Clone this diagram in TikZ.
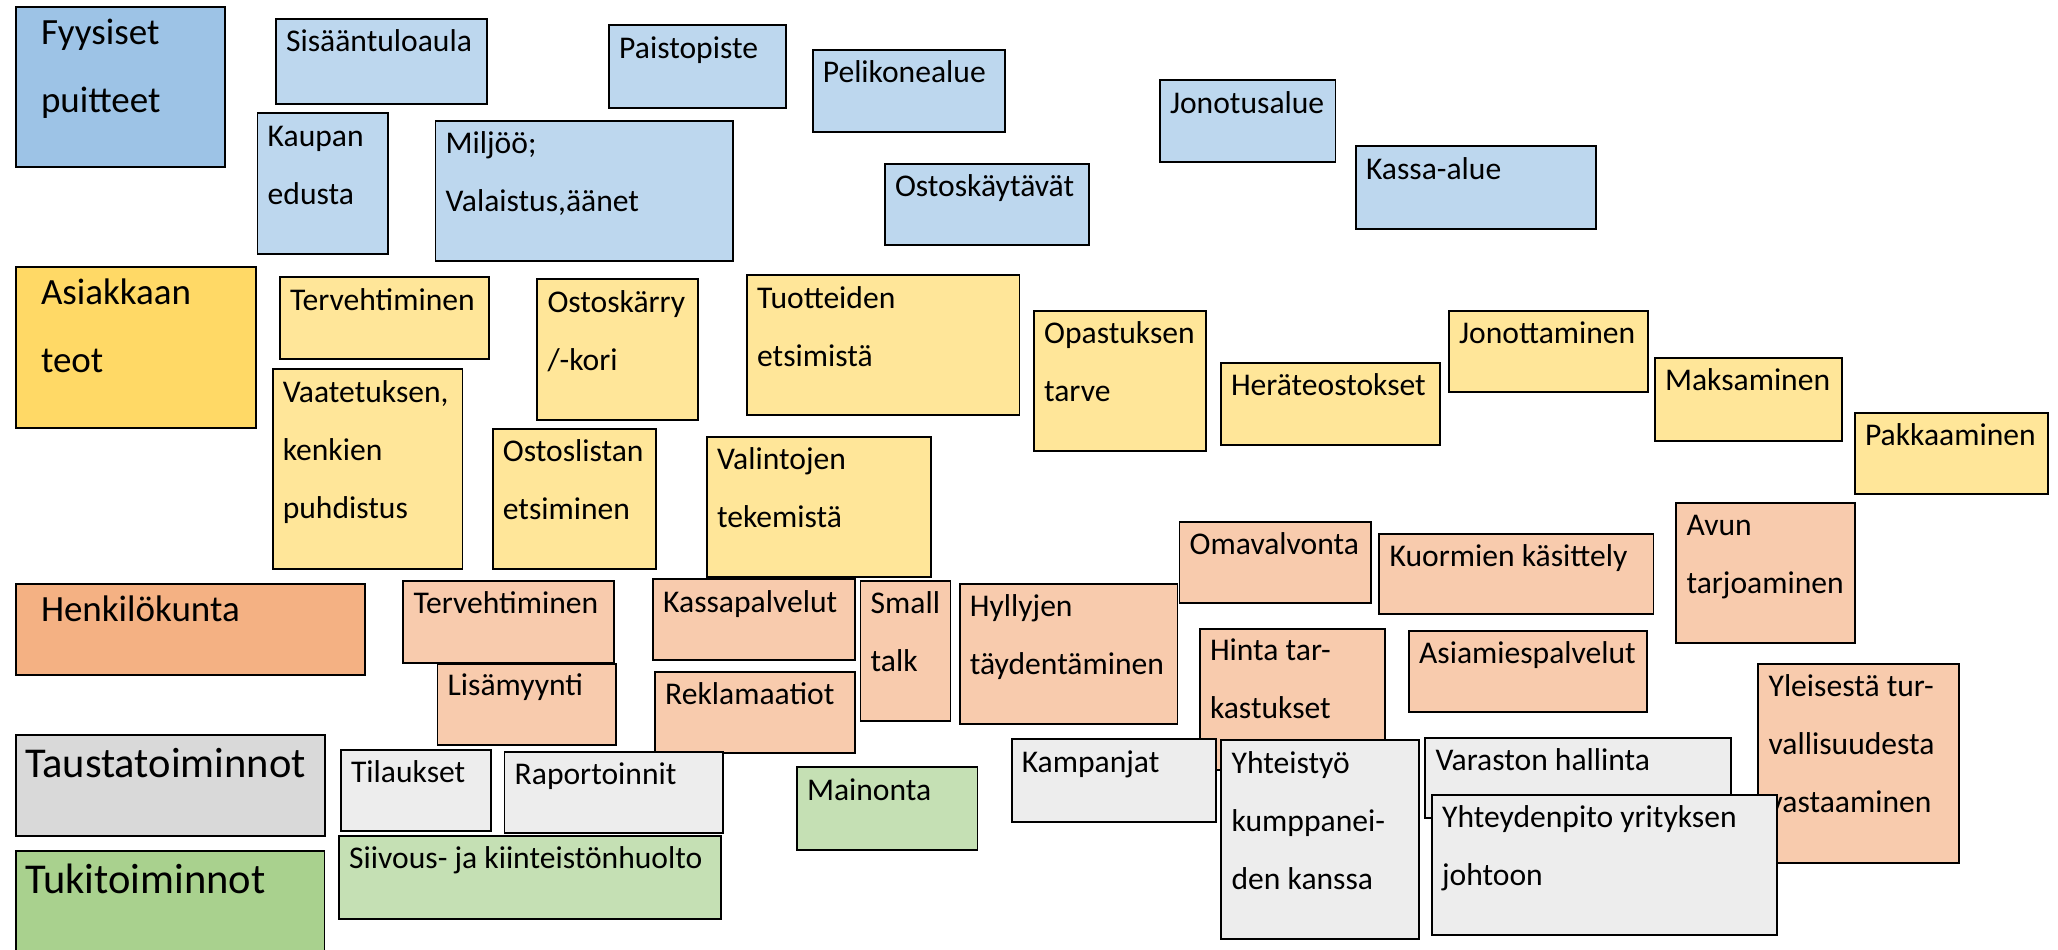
\documentclass[tikz,border=0pt]{standalone}
\usepackage{fontspec}
\setmainfont{Carlito}
\usetikzlibrary{calc}
\definecolor{bluecat}{HTML}{9DC3E6}
\definecolor{blueitem}{HTML}{BDD7EE}
\definecolor{goldcat}{HTML}{FFD966}
\definecolor{golditem}{HTML}{FFE699}
\definecolor{orangecat}{HTML}{F4B183}
\definecolor{orangeitem}{HTML}{F8CBAD}
\definecolor{graycat}{HTML}{D9D9D9}
\definecolor{grayitem}{HTML}{EDEDED}
\definecolor{greencat}{HTML}{A9D18E}
\definecolor{greenitem}{HTML}{C5E0B4}
\tikzset{
  box/.style={draw=black,line width=1.9pt,inner sep=0pt,outer sep=0pt},
  itemtxt/.style={anchor=base west,inner sep=0pt,font=\fontsize{31.6}{58}\selectfont},
  cattxt/.style={anchor=base west,inner sep=0pt,font=\fontsize{37}{68}\selectfont},
  bigcattxt/.style={anchor=base west,inner sep=0pt,font=\fontsize{42.5}{70}\selectfont},
}
% name, fill style, x1, y1, x2, y2, text style, text offset, text
\newcommand\bx[9]{%
  \node[box,#2,minimum width={#5-#3},minimum height={#6-#4}] (#1) at ({(#3+#5)/2},{-(#4+#6)/2}) {};
  \node[#7] (#1-t) at ($(#1.north west)+(#8)$) {\parbox[t]{600pt}{#9}};
}
\begin{document}
\begin{tikzpicture}[x=1pt,y=1pt]
\useasboundingbox (0,0) rectangle (2058,-950);
\fill[white] (0,0) rectangle (2058,-950);
\clip (0,0) rectangle (2058,-950);
% Fyysiset puitteet
\bx{fyys}{fill=bluecat}{15.8}{7.3}{225.3}{167}{cattxt}{25,-37.5}{Fyysiset\\puitteet}
\bx{sisa}{fill=blueitem}{275.9}{18.7}{487.4}{104.3}{itemtxt}{10,-33}{Sisääntuloaula}
\bx{pais}{fill=blueitem}{609}{25.3}{786.3}{108}{itemtxt}{10,-33}{Paistopiste}
\bx{peli}{fill=blueitem}{812.6}{49.7}{1005}{132.3}{itemtxt}{10,-33}{Pelikonealue}
\bx{kaup}{fill=blueitem}{257.5}{113.3}{387.6}{254}{itemtxt}{10,-33}{Kaupan\\edusta}
\bx{milj}{fill=blueitem}{435.5}{120.7}{733}{261}{itemtxt}{10,-33}{Miljöö;\\Valaistus,äänet}
\bx{osto}{fill=blueitem}{884.8}{163.7}{1089}{245.3}{itemtxt}{10,-33}{Ostoskäytävät}
\bx{jono}{fill=blueitem}{1159.8}{80.3}{1335.5}{162.3}{itemtxt}{10,-33}{Jonotusalue}
\bx{kass}{fill=blueitem}{1355.8}{146.3}{1596.4}{229.3}{itemtxt}{10,-33}{Kassa-alue}
% Asiakkaan teot
\bx{asia}{fill=goldcat}{15.8}{267.3}{256.2}{428.3}{cattxt}{25,-37.5}{Asiakkaan\\teot}
\bx{terva}{fill=golditem}{279.8}{277.3}{489.4}{359.3}{itemtxt}{10,-33}{Tervehtiminen}
\bx{karr}{fill=golditem}{537.3}{279.3}{698.3}{420.3}{itemtxt}{10,-33}{Ostoskärry\\/-kori}
\bx{tuot}{fill=golditem}{746.9}{275.3}{1019.5}{415.3}{itemtxt}{10,-33}{Tuotteiden\\etsimistä}
\bx{vaat}{fill=golditem}{272.6}{369.3}{462.5}{569.3}{itemtxt}{10,-33}{Vaatetuksen,\\kenkien\\puhdistus}
\bx{list}{fill=golditem}{492.7}{428.7}{656.2}{569.3}{itemtxt}{10,-33}{Ostoslistan\\etsiminen}
\bx{vali}{fill=golditem}{706.8}{436.7}{930.8}{576.7}{itemtxt}{10,-33}{Valintojen\\tekemistä}
\bx{opas}{fill=golditem}{1033.9}{310.7}{1206.4}{451.3}{itemtxt}{10,-33}{Opastuksen\\tarve}
\bx{hera}{fill=golditem}{1220.8}{362.7}{1440.4}{445}{itemtxt}{10,-33}{Heräteostokset}
\bx{jonot}{fill=golditem}{1448.9}{310.7}{1648.2}{392}{itemtxt}{10,-33}{Jonottaminen}
\bx{maks}{fill=golditem}{1654.8}{357.7}{1842.3}{441.3}{itemtxt}{10,-33}{Maksaminen}
\bx{pakk}{fill=golditem}{1854.8}{412.7}{2048.2}{494.3}{itemtxt}{10,-33}{Pakkaaminen}
% Henkilokunta
\bx{henk}{fill=orangecat}{15.8}{583.7}{365.2}{675}{cattxt}{25,-37.5}{Henkilökunta}
\bx{tervh}{fill=orangeitem}{403.3}{580.7}{614.2}{663}{itemtxt}{10,-33}{Tervehtiminen}
\bx{lisa}{fill=orangeitem}{437.5}{663.7}{616.2}{745}{itemtxt}{10,-31.5}{Lisämyynti}
\bx{kpal}{fill=orangeitem}{653}{579}{854.6}{659.7}{itemtxt}{10,-33}{Kassapalvelut}
\bx{rekl}{fill=orangeitem}{655}{671.7}{854.6}{752.7}{itemtxt}{10,-33}{Reklamaatiot}
\bx{smal}{fill=orangeitem}{860.5}{580.7}{950.5}{721}{itemtxt}{10,-33}{Small\\talk}
\bx{hyll}{fill=orangeitem}{959.7}{583.7}{1177.5}{724}{itemtxt}{10,-33}{Hyllyjen\\täydentäminen}
\bx{omav}{fill=orangeitem}{1179.5}{521.7}{1370.9}{603.3}{itemtxt}{10,-33}{Omavalvonta}
\bx{kuor}{fill=orangeitem}{1379.4}{533.7}{1653.5}{614.3}{itemtxt}{10,-33}{Kuormien käsittely}
\bx{avun}{fill=orangeitem}{1676.4}{502.7}{1854.8}{642.7}{itemtxt}{10,-33}{Avun\\tarjoaminen}
\bx{hint}{fill=orangeitem}{1199.8}{628.7}{1384.7}{770}{itemtxt}{10,-31.5}{Hinta tar-\\kastukset}
\bx{asim}{fill=orangeitem}{1408.9}{630.7}{1646.9}{712}{itemtxt}{10,-33}{Asiamiespalvelut}
\bx{ylei}{fill=orangeitem}{1758.4}{663.7}{1959}{863}{itemtxt}{10,-33}{Yleisestä tur-\\vallisuudesta\\vastaaminen}
% Taustatoiminnot
\bx{taus}{fill=graycat}{15.8}{735.3}{325.2}{836.3}{bigcattxt}{9,-42.5}{Taustatoiminnot}
\bx{tila}{fill=grayitem}{340.9}{749.7}{491.4}{831}{itemtxt}{10,-33}{Tilaukset}
\bx{rapo}{fill=grayitem}{504.5}{751.7}{723.2}{833.3}{itemtxt}{10,-33}{Raportoinnit}
\bx{kamp}{fill=grayitem}{1011.6}{739.3}{1216.2}{822.3}{itemtxt}{10,-33}{Kampanjat}
\bx{yhte}{fill=grayitem}{1221.4}{740}{1419.4}{939}{itemtxt}{10,-33}{Yhteistyö\\kumppanei-\\den kanssa}
\bx{vara}{fill=grayitem}{1425.3}{737.7}{1730.8}{818.3}{itemtxt}{10,-33}{Varaston hallinta}
\bx{yhtp}{fill=grayitem}{1431.9}{794.7}{1777.4}{935}{itemtxt}{10,-33}{Yhteydenpito yrityksen\\johtoon}
% Tukitoiminnot
\bx{tuki}{fill=greencat}{15.8}{851.3}{324.5}{956}{bigcattxt}{9,-42}{Tukitoiminnot}
\bx{siiv}{fill=greenitem}{339}{836.3}{721.3}{919}{itemtxt}{10,-32}{Siivous- ja kiinteistönhuolto}
\bx{main}{fill=greenitem}{796.8}{767.3}{977.5}{850}{itemtxt}{10,-33}{Mainonta}
\end{tikzpicture}
\end{document}
